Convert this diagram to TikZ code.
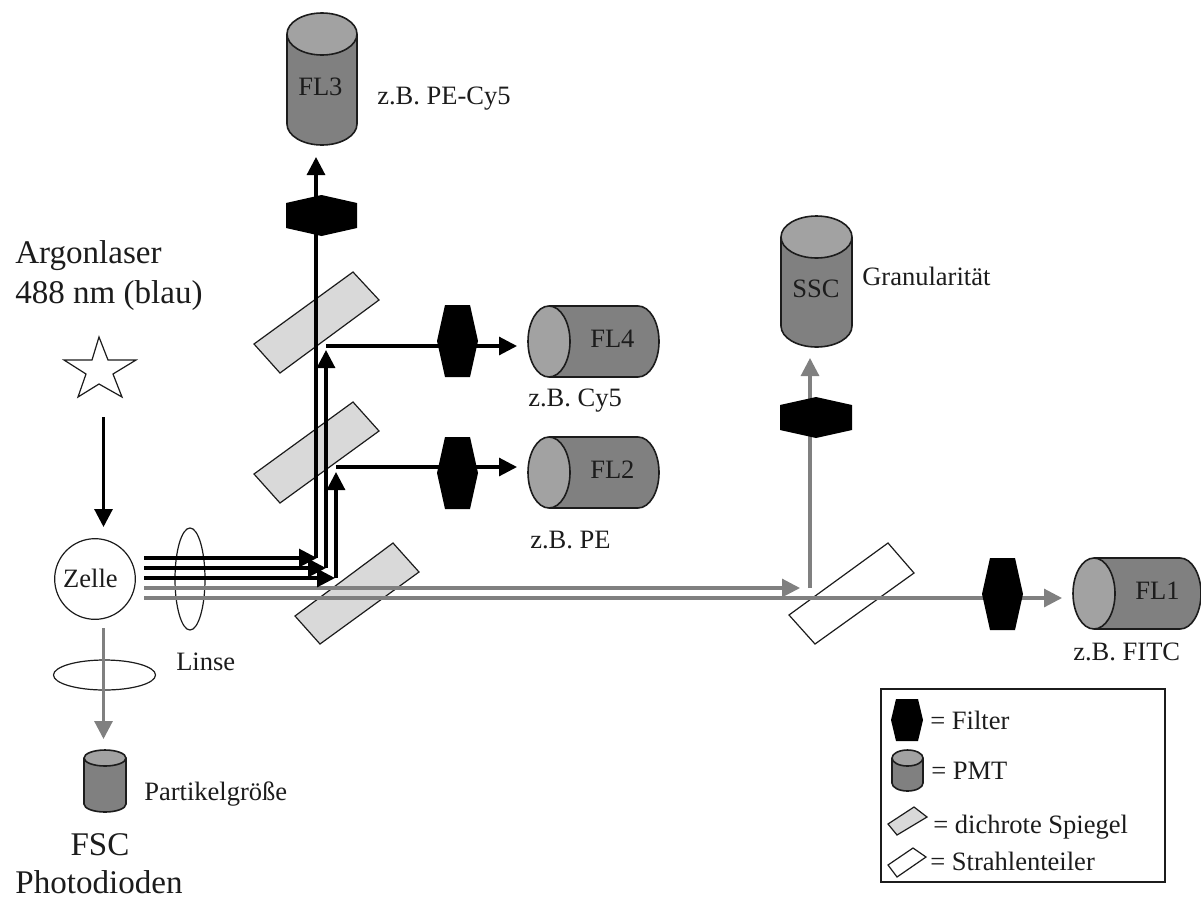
\documentclass[tikz,border=0pt]{standalone}
\usepackage{fontspec}
\setmainfont{Liberation Serif}
\usetikzlibrary{arrows.meta}
\definecolor{body}{HTML}{808080}
\definecolor{cap}{HTML}{A2A2A2}
\definecolor{mirrorfill}{HTML}{D9D9D9}
\definecolor{beamgrey}{HTML}{808080}
\definecolor{ink}{HTML}{1C1C1C}
\tikzset{
  outline/.style={draw=ink,line width=1.2pt},
  thin outline/.style={draw=ink,line width=0.9pt},
  small text/.style={inner sep=0pt,text=ink,font=\fontsize{19.9pt}{23pt}\selectfont},
  large text/.style={inner sep=0pt,text=ink,font=\fontsize{24.8pt}{28pt}\selectfont},
  blackbeam/.style={draw=black,line width=2.3pt},
  greybeam/.style={draw=beamgrey,line width=2.3pt},
  head/.style={-{Triangle[length=13.5pt,width=13.5pt]}},
  filterblock/.style={fill=black,draw=none},
  mirror/.style={fill=mirrorfill,thin outline},
  splitter/.style={fill=white,thin outline},
}
% name, x1, ytop, x2, ybottom, ry
\newcommand{\vcyl}[6]{%
  \pgfmathsetmacro{\cx}{(#2+#4)/2}\pgfmathsetmacro{\rx}{(#4-#2)/2}%
  \pgfmathsetmacro{\ya}{#3+#6}\pgfmathsetmacro{\yb}{#5-#6}%
  \pgfmathsetmacro{\kx}{0.5523*\rx}\pgfmathsetmacro{\ky}{0.5523*#6}%
  \fill[body] (#2,\ya) -- (#2,\yb) .. controls (#2,\yb+\ky) and (\cx-\kx,#5) .. (\cx,#5) .. controls (\cx+\kx,#5) and (#4,\yb+\ky) .. (#4,\yb) -- (#4,\ya) -- cycle;
  \draw[outline] (#2,\ya) -- (#2,\yb) .. controls (#2,\yb+\ky) and (\cx-\kx,#5) .. (\cx,#5) .. controls (\cx+\kx,#5) and (#4,\yb+\ky) .. (#4,\yb) -- (#4,\ya);
  \draw[outline,fill=cap] (\cx,\ya) ellipse [x radius=\rx,y radius=#6];
  \coordinate (#1) at (\cx,{(#3+#5)/2});
}
% name, xleft, ytop, xright, ybottom, rx
\newcommand{\hcyl}[6]{%
  \pgfmathsetmacro{\cy}{(#3+#5)/2}\pgfmathsetmacro{\ry}{(#5-#3)/2}%
  \pgfmathsetmacro{\xa}{#2+#6}\pgfmathsetmacro{\xb}{#4-#6}%
  \pgfmathsetmacro{\kx}{0.5523*#6}\pgfmathsetmacro{\ky}{0.5523*\ry}%
  \fill[body] (\xa,#3) -- (\xb,#3) .. controls (\xb+\kx,#3) and (#4,\cy-\ky) .. (#4,\cy) .. controls (#4,\cy+\ky) and (\xb+\kx,#5) .. (\xb,#5) -- (\xa,#5) -- cycle;
  \draw[outline] (\xa,#3) -- (\xb,#3) .. controls (\xb+\kx,#3) and (#4,\cy-\ky) .. (#4,\cy) .. controls (#4,\cy+\ky) and (\xb+\kx,#5) .. (\xb,#5) -- (\xa,#5);
  \draw[outline,fill=cap] (\xa,\cy) ellipse [x radius=#6,y radius=\ry];
  \coordinate (#1) at (\xa,\cy);
}
% wide filter: x1, ytop, x2, ybottom
\newcommand{\wfilter}[4]{%
  \pgfmathsetmacro{\cx}{(#1+#3)/2}%
  \fill[filterblock] (#1,#2+8) -- (\cx,#2) -- (#3,#2+8) -- (#3,#4-8) -- (\cx,#4) -- (#1,#4-8) -- cycle;
}
% tall filter: x1, ytop, x2, ybottom, inset
\newcommand{\tfilter}[5]{%
  \pgfmathsetmacro{\cy}{(#2+#4)/2}%
  \fill[filterblock] (#1+#5,#2) -- (#3-#5,#2) -- (#3,\cy) -- (#3-#5,#4) -- (#1+#5,#4) -- (#1,\cy) -- cycle;
}
\begin{document}
\begin{tikzpicture}[x=0.75pt,y=-0.75pt]
\useasboundingbox (0,0) rectangle (1201,900);
\fill[white] (0,0) rectangle (1201,900);

% mirrors and splitter
\draw[mirror] (353,272) -- (379,300) -- (280,373) -- (254,344) -- cycle;
\draw[mirror] (353,402) -- (379,431) -- (280,503) -- (254,474) -- cycle;
\draw[mirror] (393,543) -- (419,572) -- (320,644) -- (295,616) -- cycle;
\draw[splitter] (888,543) -- (914,573) -- (815,644) -- (789,615) -- cycle;

% star
\draw[thin outline,fill=white] (99,337) -- (108,360) -- (136,360) -- (113,374) -- (122,397) -- (99,384) -- (78,397) -- (86,374) -- (64,360) -- (92,360) -- cycle;

% cell and lenses
\node[circle,thin outline,fill=white,minimum size=60.5pt,inner sep=0pt] (zelle) at (95,579) {};
\node[small text,anchor=base] (zelletext) at (90.5,587) {Zelle};
\draw[thin outline] (190,579) ellipse [x radius=15,y radius=51];
\draw[thin outline] (104.5,675) ellipse [x radius=51,y radius=15];

% detectors
\vcyl{fl3}{287}{13}{357}{145}{21}
\vcyl{ssc}{781}{216}{852}{347}{21}
\vcyl{fsc}{84}{750}{126}{812}{8}
\hcyl{fl4}{528}{306}{659}{377}{21}
\hcyl{fl2}{528}{437}{659}{508}{21}
\hcyl{fl1}{1073}{558}{1201}{629}{21}

% beam coordinates
\coordinate (laserstart) at (103.5,417);
\coordinate (lasertip) at (103.5,527);
\coordinate (fwdstart) at (103.5,628);
\coordinate (fwdtip) at (103.5,739);
\coordinate (b1s) at (144,558); \coordinate (b1t) at (317,558);
\coordinate (b2s) at (144,568); \coordinate (b2t) at (326,568);
\coordinate (b3s) at (144,578); \coordinate (b3t) at (335,578);
\coordinate (b4s) at (144,588); \coordinate (b4t) at (800,588);
\coordinate (b5s) at (144,598); \coordinate (b5t) at (1062,598);
\coordinate (u1s) at (316,558); \coordinate (u1t) at (316,157);
\coordinate (u2s) at (326,568); \coordinate (u2t) at (326,350);
\coordinate (u3s) at (336,578); \coordinate (u3t) at (336,472);
\coordinate (r2s) at (326,346); \coordinate (r2t) at (517,346);
\coordinate (r3s) at (336,467); \coordinate (r3t) at (517,467);
\coordinate (u4s) at (810,588); \coordinate (u4t) at (810,358);

% beams
\draw[blackbeam,head] (laserstart) -- (lasertip);
\draw[greybeam,head] (fwdstart) -- (fwdtip);
\draw[greybeam,head] (b4s) -- (b4t);
\draw[greybeam,head] (b5s) -- (b5t);
\draw[greybeam,head] (u4s) -- (u4t);
\draw[blackbeam,head] (u1s) -- (u1t);
\draw[blackbeam,head] (u2s) -- (u2t);
\draw[blackbeam,head] (u3s) -- (u3t);
\draw[blackbeam,head] (r2s) -- (r2t);
\draw[blackbeam,head] (r3s) -- (r3t);
\draw[blackbeam,head] (b1s) -- (b1t);
\draw[blackbeam,head] (b2s) -- (b2t);
\draw[blackbeam,head] (b3s) -- (b3t);

% filters
\wfilter{286}{195}{357}{236}
\wfilter{780}{397}{852}{438}
\tfilter{437}{305}{478}{377}{8}
\tfilter{437}{437}{478}{509}{8}
\tfilter{982}{558}{1023}{630}{8}

% labels
\node[large text,anchor=base west] (argon) at (15,263) {Argonlaser};
\node[large text,anchor=base west] (nm) at (15,303) {488 nm (blau)};
\node[small text,anchor=base west] (linse) at (176,670) {Linse};
\node[small text,anchor=base west] (partikel) at (144,800) {Partikelgröße};
\node[large text,anchor=base] (fsctext) at (100,855) {FSC};
\node[large text,anchor=base] (photo) at (99,893) {Photodioden};
\node[small text,anchor=base west] (fl3text) at (298,95) {FL3};
\node[small text,anchor=base west] (pecy) at (377,104) {z.B. PE-Cy5};
\node[small text,anchor=base west] (ssctext) at (792,297) {SSC};
\node[small text,anchor=base west] (gran) at (862,285) {Granularität};
\node[small text,anchor=base west] (fl4text) at (590,347) {FL4};
\node[small text,anchor=base west] (cy) at (528,406) {z.B. Cy5};
\node[small text,anchor=base west] (fl2text) at (590,478) {FL2};
\node[small text,anchor=base west] (pe) at (530,548) {z.B. PE};
\node[small text,anchor=base west] (fl1text) at (1135,599) {FL1};
\node[small text,anchor=base west] (fitc) at (1073,660) {z.B. FITC};

% legend
\draw[thin outline] (881,689) rectangle (1165,882);
\tfilter{891}{699}{923}{741}{5}
\vcyl{legcyl}{892}{750}{923}{791}{8}
\draw[mirror] (914,807) -- (927,817) -- (897,835) -- (888,824) -- cycle;
\draw[splitter] (913,848) -- (926,857) -- (897,877) -- (888,865) -- cycle;
\node[small text,anchor=base west] (legf) at (930,729) {= Filter};
\node[small text,anchor=base west] (legp) at (931,779) {= PMT};
\node[small text,anchor=base west] (legd) at (933,833) {= dichrote Spiegel};
\node[small text,anchor=base west] (legs) at (930,870) {= Strahlenteiler};
\end{tikzpicture}
\end{document}
